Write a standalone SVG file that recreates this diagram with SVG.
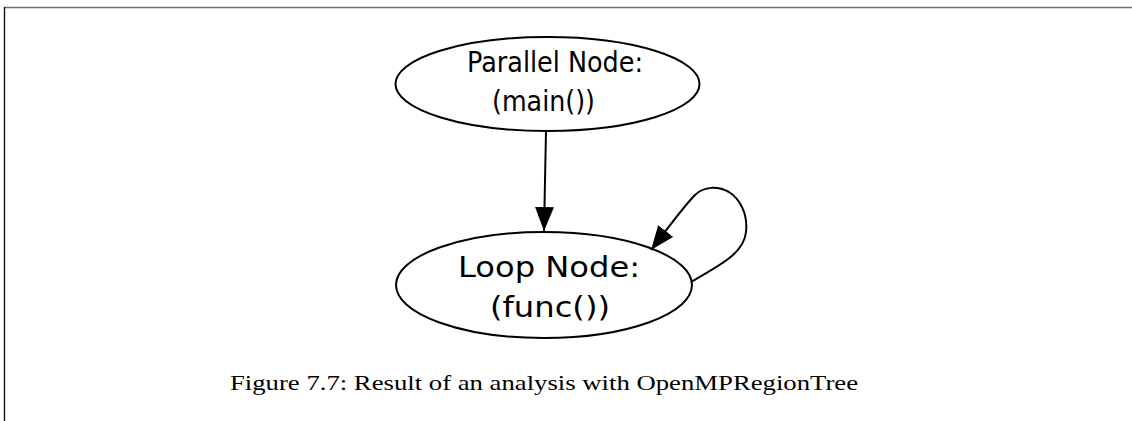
<svg xmlns="http://www.w3.org/2000/svg" width="1132" height="421" viewBox="0 0 1132 421">
  <style>
    .node { fill: none; stroke: #000; stroke-width: 2; }
    .lbl { font-family: "DejaVu Sans", sans-serif; font-size: 28px; fill: #000; }
    .edge { fill: none; stroke: #000; stroke-width: 2; }
    .caption { font-family: "Liberation Serif", serif; font-size: 22px; fill: #000; }
  </style>
  <defs>
    <marker id="arrowBig" viewBox="0 0 10 10" refX="10" refY="5" markerWidth="24" markerHeight="19" markerUnits="userSpaceOnUse" orient="auto" preserveAspectRatio="none">
      <path d="M0,0 L10,5 L0,10 z" fill="#000"/>
    </marker>
  </defs>

  <!-- frame -->
  <line x1="4" y1="7.5" x2="1132" y2="7.5" stroke="#6e6e6e" stroke-width="1.6"/>
  <line x1="4.5" y1="7" x2="4.5" y2="421" stroke="#111" stroke-width="1.4"/>

  <g id="edges">
    <path class="edge" d="M546,131 L544,231" marker-end="url(#arrowBig)"/>
    <path class="edge" d="M691,282 C718,266 744,254 746,232 C748,214 740,199 729,192 C718,186 704,186 695,195 C684,206 668,228 651,250" marker-end="url(#arrowBig)"/>
  </g>

  <g id="parallel-node">
    <ellipse class="node" cx="547.5" cy="84" rx="152" ry="47"/>
    <text class="lbl" x="467" y="72" textLength="176" lengthAdjust="spacingAndGlyphs">Parallel Node:</text>
    <text class="lbl" x="492" y="111" textLength="103" lengthAdjust="spacingAndGlyphs">(main())</text>
  </g>

  <g id="loop-node">
    <ellipse class="node" cx="544" cy="285" rx="148" ry="53"/>
    <text class="lbl" x="458" y="277" textLength="182" lengthAdjust="spacingAndGlyphs">Loop Node:</text>
    <text class="lbl" x="490" y="317" textLength="120" lengthAdjust="spacingAndGlyphs">(func())</text>
  </g>

  <text class="caption" x="230" y="390" textLength="628" lengthAdjust="spacingAndGlyphs">Figure 7.7: Result of an analysis with OpenMPRegionTree</text>
</svg>
